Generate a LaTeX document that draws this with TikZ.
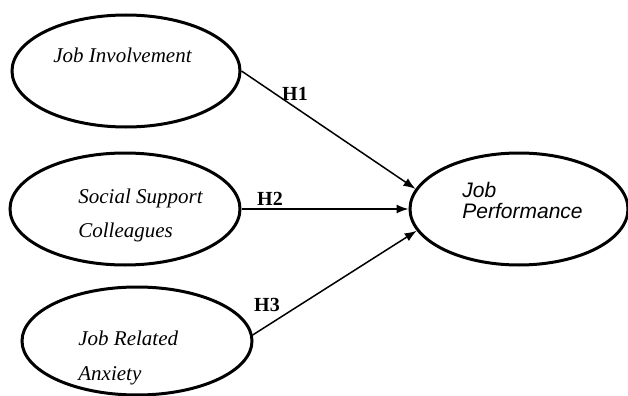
\documentclass[tikz,border=0pt]{standalone}
\usepackage{fontspec}
\setmainfont{Liberation Serif}
\setsansfont{Liberation Sans}
\usetikzlibrary{shapes.geometric, arrows.meta}

\begin{document}
\begin{tikzpicture}[x=0.5pt, y=-0.5pt,
    construct/.style={ellipse, draw, line width=1.5pt, inner sep=0pt, minimum width=115pt, minimum height=56pt},
    itemtext/.style={anchor=base west, align=left, inner sep=0pt, font=\fontsize{10.5}{17}\selectfont\itshape},
    hyplabel/.style={font=\fontsize{10}{12}\selectfont\bfseries},
    path/.style={-{Latex[length=6pt, width=4.5pt]}, line width=0.75pt}]
  \useasboundingbox (0,0) rectangle (628,396);
  % Nodes
  \node (job-involvement) [construct, minimum width=114pt] at (126, 71) {};
  \node (social-support) [construct] at (125, 209) {};
  \node (job-related) [construct, minimum height=54pt] at (137, 341) {};
  \node (job-performance) [construct, minimum width=109pt] at (519, 209) {};
  \node (job-involvement-text) [itemtext] at (53, 62) {Job Involvement};
  \node (social-support-text) [itemtext] at (78, 237) {Social Support\\Colleagues};
  \node (job-related-text) [itemtext, font=\fontsize{10.5}{17.5}\selectfont\itshape] at (78, 380) {Job Related\\Anxiety};
  \node (job-performance-text) [itemtext, font=\fontsize{10.5}{10}\selectfont\sffamily\itshape] at (462, 218) {Job\\Performance};
  \node (h1) [hyplabel] at (295, 94) {H1};
  \node (h2) [hyplabel] at (270, 199) {H2};
  \node (h3) [hyplabel] at (267, 305) {H3};
  % Arrow
  \draw[path] (job-involvement.east) -- (job-performance.169);
  \draw[path] (social-support.east) -- (job-performance.west);
  \draw[path] (job-related.3) -- (job-performance.192);
\end{tikzpicture}
\end{document}
